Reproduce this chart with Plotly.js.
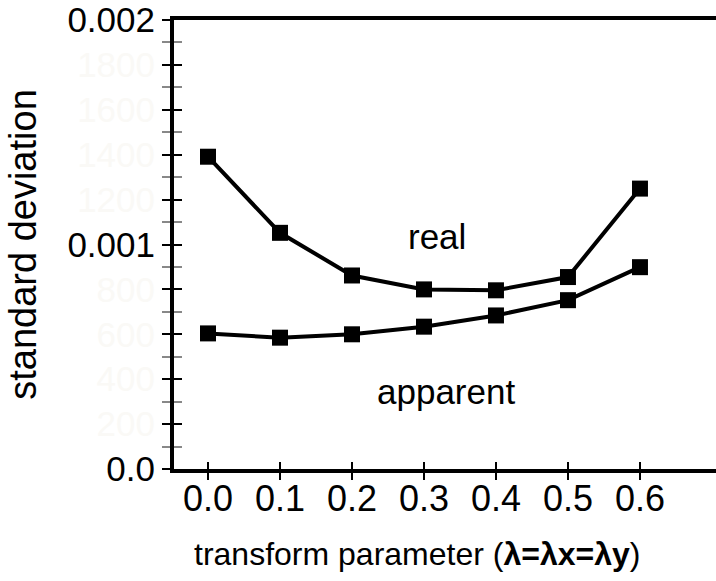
<!DOCTYPE html>
<html>
<head>
<meta charset="utf-8">
<script src="https://cdn.plot.ly/plotly-3.0.1.min.js"></script>
<style>html,body{margin:0;padding:0;background:#fff;}#chart{width:716px;height:581px;}</style>
</head>
<body>
<div id="chart"></div>
<script>
const lambdaVals = [0.0, 0.1, 0.2, 0.3, 0.4, 0.5, 0.6];
const realSD = [0.001391, 0.001052, 0.000862, 0.000800, 0.000796, 0.000855, 0.001249];
const apparentSD = [0.000604, 0.000585, 0.000600, 0.000634, 0.000684, 0.000752, 0.000899];
const xTickVals = [0.0, 0.1, 0.2, 0.3, 0.4, 0.5, 0.6];
const xTickText = ['0.0', '0.1', '0.2', '0.3', '0.4', '0.5', '0.6'];
const yTickVals = [0, 0.0002, 0.0004, 0.0006, 0.0008, 0.001, 0.0012, 0.0014, 0.0016, 0.0018, 0.002];
const yTickText = ['0.0', '200', '400', '600', '800', '0.001', '1200', '1400', '1600', '1800', '0.002'];
const yFaint = [false, true, true, true, true, false, true, true, true, true, false];
const seriesLabels = ['real', 'apparent'];
const labelPos = [[0.318, 0.001036], [0.331, 0.000347]];

const FONT = 'Liberation Sans, Arial, sans-serif';
const yText = yTickText.map((t, i) => yFaint[i] ? '<span style="color:#faf9f6">' + t + '</span>' : t);

const xRange = [-0.0472, 0.7056];
const yRange = [0, 0.002];

const traceStyle = {
  mode: 'lines+markers',
  line: {color: '#000', width: 4},
  marker: {symbol: 'square', size: 16, color: '#000'},
  showlegend: false,
  hoverinfo: 'skip'
};

const data = [
  Object.assign({x: lambdaVals, y: realSD, xaxis: 'x', yaxis: 'y', name: seriesLabels[0]}, traceStyle),
  Object.assign({x: lambdaVals, y: apparentSD, xaxis: 'x2', yaxis: 'y2', name: seriesLabels[1]}, traceStyle)
];

const baseX = {
  range: xRange, tickmode: 'array', tickvals: xTickVals,
  tickwidth: 2, ticklen: 7, tickcolor: '#000',
  showgrid: false, zeroline: false
};
const baseY = {
  range: yRange, tickmode: 'array', tickvals: yTickVals,
  tickwidth: 2, ticklen: 8, tickcolor: '#000',
  showgrid: false, zeroline: false,
  minor: {dtick: 0.0001, tick0: 0, ticklen: 8, tickwidth: 2, tickcolor: '#888', showgrid: false}
};

const layout = {
  width: 716, height: 581,
  margin: {l: 174, r: 0, t: 20, b: 112},
  paper_bgcolor: '#fff', plot_bgcolor: '#fff',
  font: {family: FONT, color: '#000', size: 34},
  xaxis: Object.assign({}, baseX, {
    ticks: 'outside', ticktext: xTickText, showticklabels: true,
    tickfont: {family: FONT, size: 36, color: '#000'},
    ticklabelstandoff: -12,
    showline: true, linewidth: 4, linecolor: '#000', mirror: true
  }),
  xaxis2: Object.assign({}, baseX, {
    overlaying: 'x', ticks: 'inside', showticklabels: false, showline: false
  }),
  yaxis: Object.assign({}, baseY, {
    ticks: 'outside', ticktext: yText, showticklabels: true,
    tickfont: {family: FONT, size: 35, color: '#000'},
    showline: true, linewidth: 4, linecolor: '#000',
    minor: Object.assign({}, baseY.minor, {ticks: 'outside'}),
    title: {text: 'standard deviation', font: {family: FONT, size: 38, color: '#000'}, standoff: 20}
  }),
  yaxis2: Object.assign({}, baseY, {
    overlaying: 'y', side: 'left', ticks: 'inside', showticklabels: false, showline: false,
    minor: Object.assign({}, baseY.minor, {ticks: 'inside'})
  }),
  annotations: [
    {xref: 'x', yref: 'y', x: labelPos[0][0], y: labelPos[0][1], text: seriesLabels[0], showarrow: false,
     font: {family: FONT, size: 35, color: '#000'}},
    {xref: 'x', yref: 'y', x: labelPos[1][0], y: labelPos[1][1], text: seriesLabels[1], showarrow: false,
     font: {family: FONT, size: 35, color: '#000'}},
    {xref: 'x', yref: 'paper', x: 0.29, y: -0.19, yanchor: 'middle', showarrow: false,
     text: 'transform parameter (<b>λ=λx=λy</b>)',
     font: {family: FONT, size: 32, color: '#000'}}
  ]
};

Plotly.newPlot('chart', data, layout, {staticPlot: true, displayModeBar: false});
</script>
</body>
</html>
